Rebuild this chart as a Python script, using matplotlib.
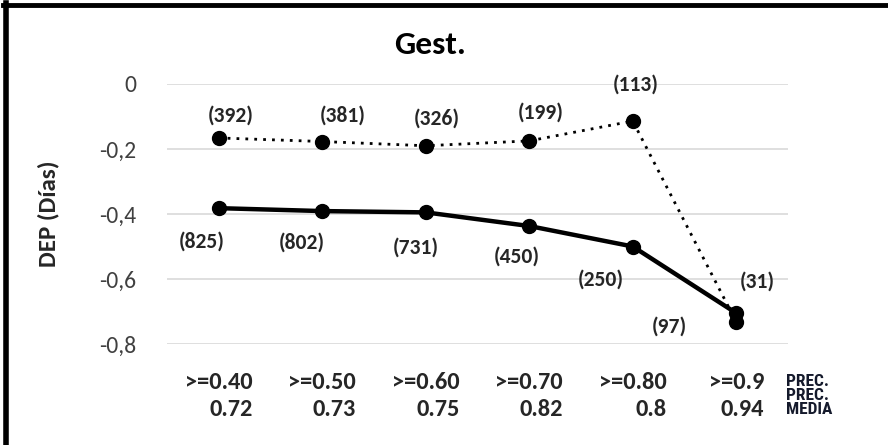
import matplotlib
matplotlib.use("Agg")
import matplotlib.pyplot as plt
from matplotlib import font_manager
from matplotlib.lines import Line2D

names = {f.name for f in font_manager.fontManager.ttflist}
FONT = 'Carlito' if 'Carlito' in names else ('Lato' if 'Lato' in names else 'DejaVu Sans')
NARROW = FONT
for cand in ['Roboto Condensed', 'Liberation Sans Narrow', 'DejaVu Sans Condensed']:
    if cand in names:
        NARROW = cand
        break
plt.rcParams['font.family'] = [FONT, 'DejaVu Sans']

# ---- data ----
categories = [">=0.40", ">=0.50", ">=0.60", ">=0.70", ">=0.80", ">=0.9"]
prec_media = ["0.72", "0.73", "0.75", "0.82", "0.8", "0.94"]
dotted_values = [-0.166, -0.177, -0.190, -0.175, -0.114, -0.732]
dotted_counts = ["(392)", "(381)", "(326)", "(199)", "(113)", "(31)"]
solid_values = [-0.382, -0.391, -0.395, -0.437, -0.500, -0.705]
solid_counts = ["(825)", "(802)", "(731)", "(450)", "(250)", "(97)"]
yticks = [0, -0.2, -0.4, -0.6, -0.8]
ytick_labels = ["0", "-0,2", "-0,4", "-0,6", "-0,8"]

# label offsets in pixels (style)
dotted_offsets = [(12, 22), (20, 26), (11, 27), (11, 28), (3, 36), (21, 40)]
solid_offsets = [(-17, -33), (-20, -32), (-10, -35), (-12, -31), (-32, -33), (-67, -14)]

W, H = 888, 445
fig = plt.figure(figsize=(W / 100, H / 100), dpi=100)
ax = fig.add_axes([167 / W, (H - 344) / H, (788 - 167) / W, (344 - 84) / H])

x = list(range(len(categories)))
ax.set_xlim(-0.5, len(categories) - 0.5)
ax.set_ylim(-0.8, 0)

ax.plot(x, solid_values, color='black', lw=3.2, marker='o', ms=10, clip_on=False, zorder=3,
        solid_joinstyle='round')
ax.plot(x, dotted_values, color='black', lw=2.0, ls=(0, (1, 2.2)), marker='o', ms=10,
        clip_on=False, zorder=4)

lab_col = '#262626'
for xi, v, t, off in zip(x, dotted_values, dotted_counts, dotted_offsets):
    ax.annotate(t, (xi, v), xytext=off, textcoords='offset pixels', ha='center', va='center',
                fontsize=15.5, fontweight='bold', color=lab_col, annotation_clip=False)
for xi, v, t, off in zip(x, solid_values, solid_counts, solid_offsets):
    ax.annotate(t, (xi, v), xytext=off, textcoords='offset pixels', ha='center', va='center',
                fontsize=15.5, fontweight='bold', color=lab_col, annotation_clip=False)

ax.set_yticks(yticks)
ax.set_yticklabels(ytick_labels, fontsize=17, color='#404040')
ax.tick_params(axis='y', length=0, pad=22)
ax.grid(axis='y', color='#d9d9d9', lw=1.2)
ax.set_axisbelow(True)
for s in ax.spines.values():
    s.set_visible(False)

ax.set_xticks(x)
ax.set_xticklabels([f"{c}\n{m}" for c, m in zip(categories, prec_media)], fontsize=17.5,
                   fontweight='bold', color='#262626', linespacing=1.35)
for t in ax.get_xticklabels():
    t.set_multialignment('right')
ax.tick_params(axis='x', length=0, pad=20)

ax.set_ylabel("DEP (Días)", fontsize=18, fontweight='bold', color='#262626', labelpad=29)

fig.text(430 / W, 1 - 45 / H, "Gest.", ha='center', va='center', fontsize=24,
         fontweight='bold', color='black')

for txt, yy in [("PREC.", 381), ("PREC.", 396), ("MEDIA", 410)]:
    fig.text(786 / W, 1 - yy / H, txt, ha='left', va='center', fontsize=12.5,
             fontweight='bold', color='#151a2c', family=[NARROW, 'DejaVu Sans'])

# frame lines (top and left)
fig.add_artist(Line2D([3 / W, 1], [1 - 5 / H, 1 - 5 / H], color='black', lw=3.5,
                      transform=fig.transFigure))
fig.add_artist(Line2D([5.5 / W, 5.5 / W], [0, 1 - 3 / H], color='black', lw=4,
                      transform=fig.transFigure))

fig.savefig("out.png", dpi=100)
